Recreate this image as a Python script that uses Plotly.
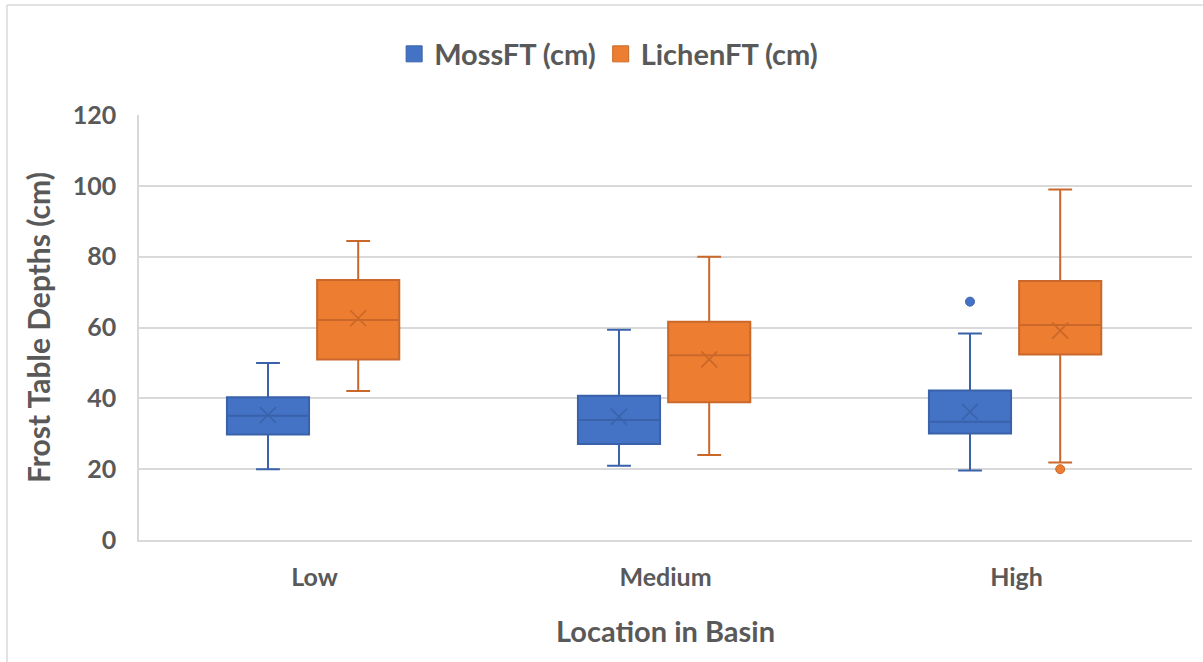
import plotly.graph_objects as go

# Frost table depth summaries by basin position
categories = ["Low", "Medium", "High"]

moss_lower = [20.0, 21.0, 19.6]
moss_q1 = [29.8, 27.1, 30.1]
moss_median = [35.1, 33.9, 33.4]
moss_q3 = [40.3, 40.7, 42.2]
moss_upper = [50.0, 59.4, 58.3]
moss_mean = [35.3, 34.8, 36.2]
moss_outliers = {"High": [67.3]}

lichen_lower = [42.1, 24.0, 21.9]
lichen_q1 = [51.0, 38.9, 52.4]
lichen_median = [62.1, 52.2, 60.7]
lichen_q3 = [73.4, 61.6, 73.1]
lichen_upper = [84.4, 80.0, 99.0]
lichen_mean = [62.6, 51.0, 59.1]
lichen_outliers = {"High": [20.0]}

y_ticks = [0, 20, 40, 60, 80, 100, 120]

TEXT = "#595959"
GRID = "#D9D9D9"
FONT = "Lato"

series = [
    dict(name="MossFT (cm)", fill="#4472C4", line="#3A62AA", shift=-0.1325,
         lower=moss_lower, q1=moss_q1, med=moss_median, q3=moss_q3,
         upper=moss_upper, mean=moss_mean, out=moss_outliers),
    dict(name="LichenFT (cm)", fill="#ED7D31", line="#C9682A", shift=0.1245,
         lower=lichen_lower, q1=lichen_q1, med=lichen_median, q3=lichen_q3,
         upper=lichen_upper, mean=lichen_mean, out=lichen_outliers),
]

fig = go.Figure()

for s in series:
    xs = [i + s["shift"] for i in range(len(categories))]
    fig.add_trace(go.Box(
        x=xs, q1=s["q1"], median=s["med"], q3=s["q3"],
        lowerfence=s["lower"], upperfence=s["upper"],
        width=0.234, whiskerwidth=0.29,
        fillcolor=s["fill"], line=dict(color=s["line"], width=2),
        boxpoints=False, showlegend=False, hoverinfo="skip",
    ))
    # mean markers
    fig.add_trace(go.Scatter(
        x=xs, y=s["mean"], mode="markers", showlegend=False, hoverinfo="skip",
        marker=dict(symbol="x-thin", size=16, line=dict(color=s["line"], width=1.6)),
    ))
    # outliers
    ox, oy = [], []
    for cat, vals in s["out"].items():
        for v in vals:
            ox.append(categories.index(cat) + s["shift"])
            oy.append(v)
    fig.add_trace(go.Scatter(
        x=ox, y=oy, mode="markers", showlegend=False, hoverinfo="skip",
        marker=dict(symbol="circle", size=9, color=s["fill"],
                    line=dict(color=s["line"], width=1)),
    ))
    # legend entry
    fig.add_trace(go.Scatter(
        x=[None], y=[None], mode="markers", name=s["name"],
        marker=dict(symbol="square", size=20, color=s["fill"],
                    line=dict(color=s["line"], width=1)),
    ))

# outer frame lines (top and left)
fig.add_shape(type="line", xref="paper", yref="paper",
              x0=-0.1254, x1=1.02, y0=1.2588, y1=1.2588,
              line=dict(color=GRID, width=1.5))
fig.add_shape(type="line", xref="paper", yref="paper",
              x0=-0.1254, x1=-0.1254, y0=1.2588, y1=-0.3,
              line=dict(color=GRID, width=1.5))

fig.update_layout(
    width=1203, height=662,
    margin=dict(l=139, r=11, t=115, b=122),
    paper_bgcolor="white", plot_bgcolor="white",
    font=dict(family=FONT, color=TEXT, size=24, weight="bold"),
    legend=dict(orientation="h", x=0.446, xanchor="center", y=1.1435, yanchor="middle",
                font=dict(size=29, family=FONT, color=TEXT, weight="bold"),
                itemsizing="trace", bgcolor="rgba(0,0,0,0)"),
    xaxis=dict(range=[-0.5, 2.5], tickvals=[0, 1, 2], ticktext=categories,
               showgrid=False, zeroline=False, showline=True, linecolor=GRID, linewidth=1.5,
               ticks="", ticklabelstandoff=14,
               tickfont=dict(size=25, family=FONT, color=TEXT, weight="bold"),
               title=dict(text="Location in Basin", standoff=32,
                          font=dict(size=29, family=FONT, color=TEXT, weight="bold"))),
    yaxis=dict(range=[0, 120], tickvals=y_ticks, showgrid=True, gridcolor=GRID, gridwidth=1.5,
               zeroline=False, showline=True, linecolor=GRID, linewidth=1.5,
               ticks="", ticklabelstandoff=16,
               tickfont=dict(size=25, family=FONT, color=TEXT, weight="bold"),
               title=dict(text="Frost Table Depths (cm)", standoff=13,
                          font=dict(size=30, family=FONT, color=TEXT, weight="bold"))),
)

fig.write_html("out.html")
